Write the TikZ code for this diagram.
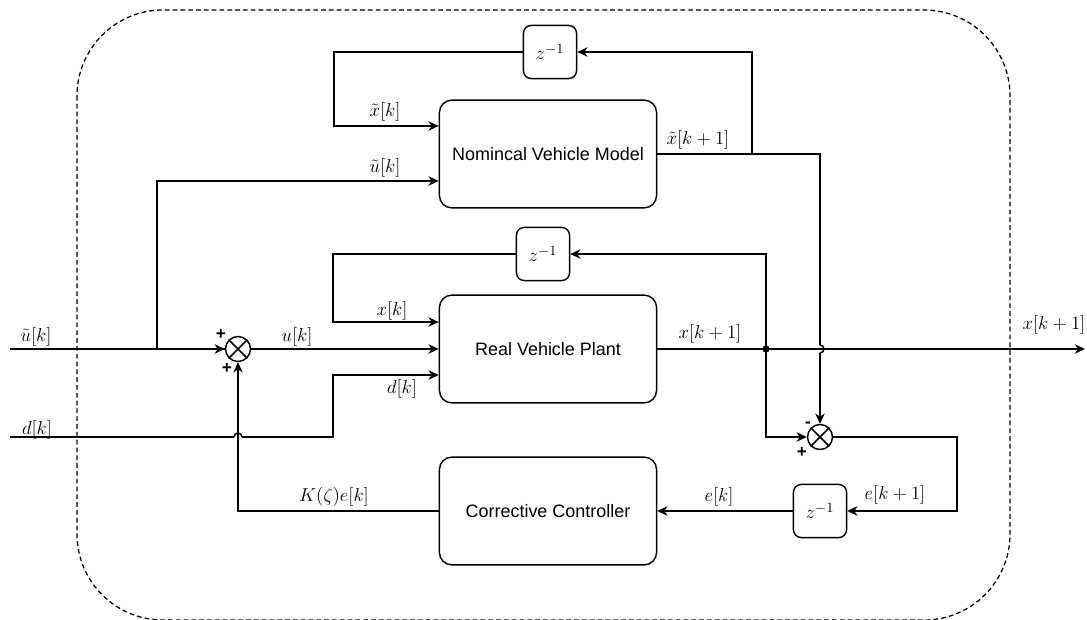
\documentclass[tikz,border=0pt]{standalone}
\usepackage{fontspec}
\setsansfont{Liberation Sans}
\usetikzlibrary{arrows.meta,calc}

\tikzset{
  block/.style={draw, rounded corners=8pt, minimum width=139pt, minimum height=69pt,
    font=\sffamily\fontsize{11.5}{13}\selectfont, line width=0.9pt},
  delay/.style={draw, rounded corners=5pt, minimum width=34pt, minimum height=34pt,
    font=\fontsize{13}{15}\selectfont, line width=0.9pt},
  sumnode/.style={draw, circle, minimum size=16pt, inner sep=0pt, line width=0.9pt},
  lbl/.style={inner sep=1pt, font=\fontsize{11.5}{13}\selectfont},
  sgn/.style={inner sep=0pt, font=\sffamily\bfseries\fontsize{11}{12}\selectfont},
  arr/.style={-{Stealth[length=6.5pt,width=6pt,inset=2pt]}, line width=0.95pt},
  wire/.style={line width=0.95pt},
}

\begin{document}
\begin{tikzpicture}[x=0.64pt,y=-0.64pt]
  \useasboundingbox (0,0) rectangle (1087,619);

  % frame
  \draw[dash pattern=on 3pt off 2pt, rounded corners=55pt, line width=0.8pt]
    (77,10) rectangle (1010,620);

  % blocks
  \node[block] (nom) at (548,154) {Nomincal Vehicle Model};
  \node[block] (plant) at (548,349) {Real Vehicle Plant};
  \node[block] (ctrl) at (548,511) {Corrective Controller};
  \node[delay] (zn) at (550,52) {$z^{-1}$};
  \node[delay] (zp) at (543,254) {$z^{-1}$};
  \node[delay] (ze) at (820,511) {$z^{-1}$};
  \node[sumnode] (s1) at (238,349) {};
  \node[sumnode] (s2) at (820,437) {};
  \draw[wire] (s1.north west) -- (s1.south east) (s1.north east) -- (s1.south west);
  \draw[wire] (s2.north west) -- (s2.south east) (s2.north east) -- (s2.south west);

  \coordinate (uin) at (10,349);
  \coordinate (din) at (10,437);
  \coordinate (xout) at (1085,349);
  \coordinate (br) at (157,349);
  \coordinate (dot) at (766,349);
  \coordinate (tap) at (752,154);
  % line hops
  \coordinate (hx) at (820,349);
  \coordinate (hd) at (238,437);

  % nominal model loop
  \draw[wire] (uin) -- (s1.west);
  \draw[arr] (br) -- (s1.west);
  \draw[arr] (br) |- ($(nom.west)+(0,27)$);
  \draw[arr] (zn.west) -- (334,52) |- ($(nom.west)+(0,-28)$);
  \draw[wire] (nom.east) -- (tap);
  \draw[arr] (tap) |- (zn.east);
  \draw[wire] (tap) -| ($(hx)+(0,-4)$);
  \draw[wire] ($(hx)+(0,-4)$) arc (270:450:4);
  \draw[arr] ($(hx)+(0,4)$) -- (s2.north);

  % real plant loop
  \draw[arr] (s1.east) -- (plant.west);
  \draw[wire] (din) -- ($(hd)+(-4,0)$);
  \draw[wire] ($(hd)+(-4,0)$) arc (180:360:4);
  \draw[arr] ($(hd)+(4,0)$) -- (333,437) |- ($(plant.west)+(0,26)$);
  \draw[arr] (zp.west) -- (333,254) |- ($(plant.west)+(0,-27)$);
  \draw[arr] (plant.east) -- (xout);
  \draw[arr] (dot) |- (zp.east);
  \fill (dot) circle (2.3pt);

  % error loop
  \draw[arr] (dot) |- (s2.west);
  \draw[arr] (s2.east) -- (957,437) |- (ze.east);
  \draw[arr] (ze.west) -- (ctrl.east);
  \draw[arr] (ctrl.west) -| (s1.south);

  % labels
  \node[lbl] (lu0) at (36,337) {$\tilde{u}[k]$};
  \node[lbl] (ld0) at (37,430) {$d[k]$};
  \node[lbl] (lu) at (297,337) {$u[k]$};
  \node[lbl] (ld) at (402,389) {$d[k]$};
  \node[lbl] (lx) at (392,311) {$x[k]$};
  \node[lbl] (lxt) at (385,112) {$\tilde{x}[k]$};
  \node[lbl] (lut) at (385,168) {$\tilde{u}[k]$};
  \node[lbl] (lxt1) at (698,140) {$\tilde{x}[k+1]$};
  \node[lbl] (lx1) at (710,334) {$x[k+1]$};
  \node[lbl] (lxo) at (1054,325) {$x[k+1]$};
  \node[lbl] (le1) at (895,495) {$e[k+1]$};
  \node[lbl] (le) at (719,497) {$e[k]$};
  \node[lbl] (lk) at (334,497) {$K(\zeta)e[k]$};

  % signs
  \node[sgn] (p1) at (221,334) {+};
  \node[sgn] (p2) at (227,368) {+};
  \node[sgn] (p3) at (802,452) {+};
  \node[sgn] (m3) at (808,425) {-};
\end{tikzpicture}
\end{document}
